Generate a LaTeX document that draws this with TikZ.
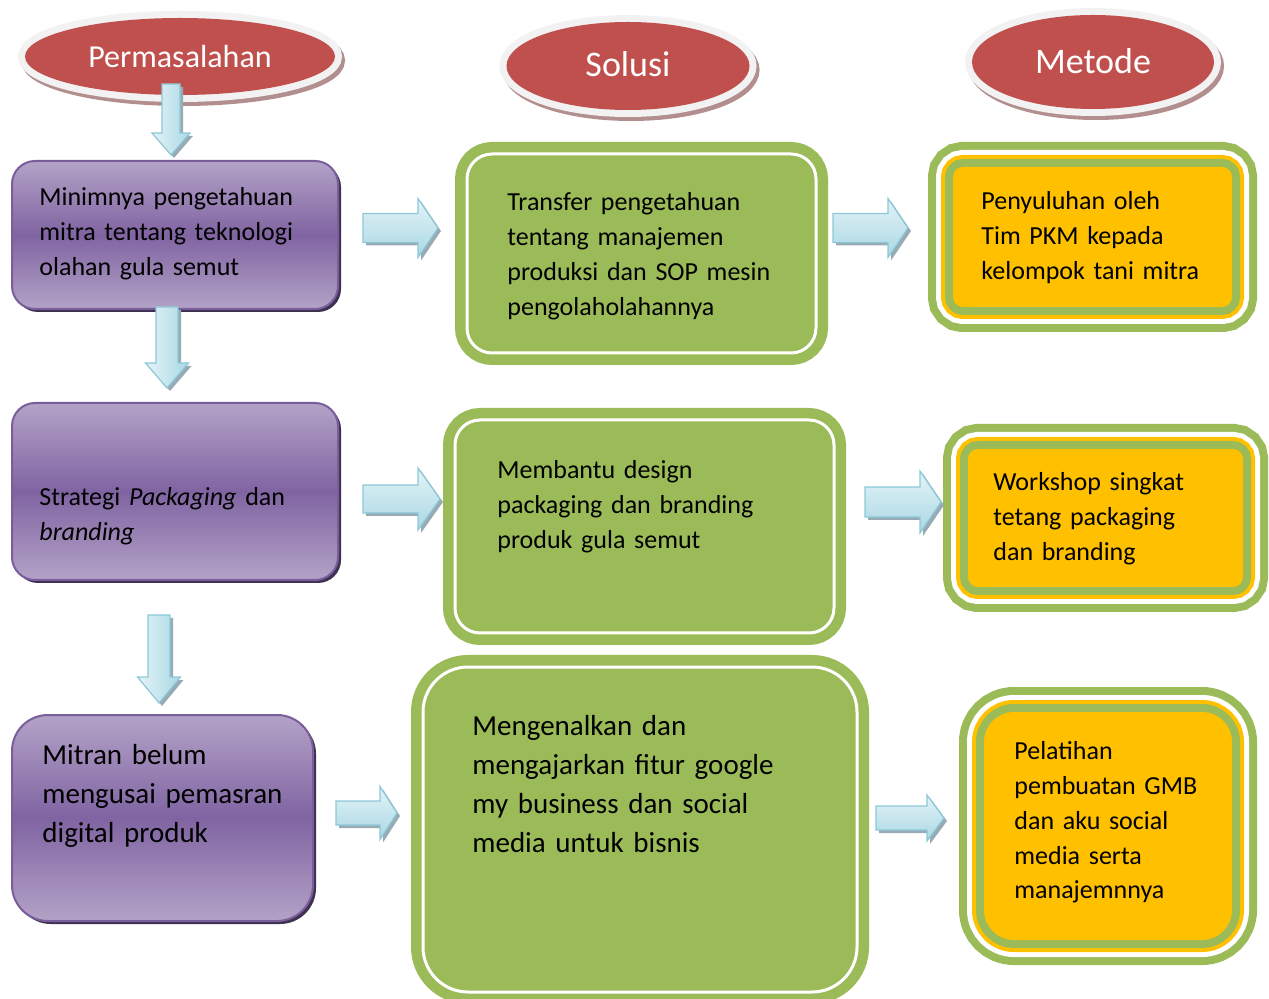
\documentclass[tikz,border=0pt]{standalone}
\usepackage{fontspec}
\setmainfont{Carlito}
\usetikzlibrary{shapes.geometric,shadows}
\definecolor{hdrred}{HTML}{C0504D}
\definecolor{hdrring}{HTML}{F2F2F2}
\definecolor{hdrshadow}{HTML}{B38E8E}
\definecolor{probtop}{HTML}{B3A2C7}
\definecolor{probmid}{HTML}{8064A2}
\definecolor{probline}{HTML}{7A5E9C}
\definecolor{probshadow}{HTML}{3F3151}
\definecolor{solgreen}{HTML}{9BBB59}
\definecolor{metorange}{HTML}{FFC000}
\definecolor{arrlight}{HTML}{E4F3F7}
\definecolor{arrdark}{HTML}{A9D8E4}
\definecolor{arrline}{HTML}{8CC8D8}
\definecolor{arrshadow}{HTML}{98ABB5}
% block arrows: tail x, tip x, mid y, half shaft, half head, head length
\newcommand{\arrowright}[6]{%
  \foreach \off/\look in {3/arrowshade, 0/arrowbody}
    \path[\look, shift={(\off,\off)}] (#1,#3-#4) -- (#2-#6,#3-#4) -- (#2-#6,#3-#5) -- (#2,#3)
      -- (#2-#6,#3+#5) -- (#2-#6,#3+#4) -- (#1,#3+#4) -- cycle;}
% mid x, tail y, tip y, half shaft, half head, head length
\newcommand{\arrowdown}[6]{%
  \foreach \off/\look in {3/arrowshade, 0/arrowbodyv}
    \path[\look, shift={(\off,\off)}] (#1-#4,#2) -- (#1-#4,#3-#6) -- (#1-#5,#3-#6) -- (#1,#3)
      -- (#1+#5,#3-#6) -- (#1+#4,#3-#6) -- (#1+#4,#2) -- cycle;}
\begin{document}
\begin{tikzpicture}[x=0.5pt, y=-0.5pt,
  header/.style={ellipse, inner sep=0pt, fill=hdrred, text=white,
    preaction={draw=hdrshadow, line width=7pt, transform canvas={shift={(1.5pt,-2pt)}}},
    preaction={draw=hdrring, line width=7pt}},
  problem/.style={rectangle, rounded corners=11.5pt, draw=probline, line width=1pt,
    top color=probtop, bottom color=probtop, middle color=probmid,
    drop shadow={shadow xshift=1.5pt, shadow yshift=-1.5pt, fill=probshadow, opacity=1}},
  solution/.style={rectangle, rounded corners=12.5pt, fill=solgreen, draw=white, line width=1.5pt,
    preaction={draw=solgreen, line width=12pt}},
  method/.style={rectangle, rounded corners=5pt, fill=metorange,
    preaction={draw=solgreen, line width=25pt},
    preaction={draw=white, line width=17pt},
    preaction={draw=metorange, line width=12pt},
    preaction={draw=solgreen, line width=8pt}},
  bodytxt/.style={anchor=base west, inner sep=0pt, text width=220pt, align=left,
    font=\fontsize{13}{17.5}\selectfont},
  bigtxt/.style={bodytxt, font=\fontsize{14.5}{19.5}\selectfont},
  arrowbody/.style={top color=arrlight, bottom color=arrdark, draw=arrline, line width=0.6pt},
  arrowbodyv/.style={left color=arrlight, right color=arrdark, draw=arrline, line width=0.6pt},
  arrowshade/.style={fill=arrshadow}]
\useasboundingbox (0,0) rectangle (1269,999);

% Column headers
\node[header, minimum width=155pt, minimum height=38.5pt, font=\fontsize{16}{19}\selectfont]
  (hdrprob) at (180,56.5) {Permasalahan};
\node[header, minimum width=121.5pt, minimum height=44pt, font=\fontsize{18}{21}\selectfont]
  (hdrsol) at (628,66) {\raisebox{1.5pt}{Solusi}};
\node[header, minimum width=121pt, minimum height=47pt, font=\fontsize{18}{21}\selectfont]
  (hdrmet) at (1093,62) {\raisebox{1pt}{Metode}};

% Permasalahan
\node[problem, minimum width=163pt, minimum height=74pt] (prob1) at (175,235) {};
\node[problem, minimum width=163pt, minimum height=88.5pt] (prob2) at (175,491.5) {};
\node[problem, rounded corners=18pt, minimum width=150.5pt, minimum height=103pt] (prob3) at (162.5,818) {};

% Solusi
\node[solution, minimum width=174.5pt, minimum height=99.5pt] (sol1) at (641.5,253.5) {};
\node[solution, minimum width=189.5pt, minimum height=106.5pt] (sol2) at (644.5,526.5) {};
\node[solution, rounded corners=22.5pt, minimum width=217pt, minimum height=162.5pt] (sol3) at (640,829.5) {};

% Metode
\node[method, minimum width=139.5pt, minimum height=70pt] (met1) at (1092.5,237) {};
\node[method, minimum width=137.5pt, minimum height=69pt] (met2) at (1105.5,518) {};
\node[method, rounded corners=15pt, minimum width=124pt, minimum height=114pt] (met3) at (1108,826) {};

% Texts
\node[bodytxt] (prob1txt) at (39,206) {Minimnya pengetahuan\\mitra tentang teknologi\\olahan gula semut};
\node[bodytxt] (prob2txt) at (39,506) {Strategi \textit{Packaging} dan\\\textit{branding}};
\node[bigtxt] (prob3txt) at (42,764) {Mitran belum\\mengusai pemasran\\digital produk};
\node[bodytxt] (sol1txt) at (507,211) {Transfer pengetahuan\\tentang manajemen\\produksi dan SOP mesin\\pengolaholahannya};
\node[bodytxt] (sol2txt) at (497,479) {Membantu design\\packaging dan branding\\produk gula semut};
\node[bigtxt] (sol3txt) at (472,735) {Mengenalkan dan\\mengajarkan fitur google\\my business dan social\\media untuk bisnis};
\node[bodytxt] (met1txt) at (981,210) {Penyuluhan oleh\\Tim PKM kepada\\kelompok tani mitra};
\node[bodytxt] (met2txt) at (993,491) {Workshop singkat\\tetang packaging\\dan branding};
\node[bodytxt] (met3txt) at (1014,759) {Pelatihan\\pembuatan GMB\\dan aku social\\media serta\\manajemnnya};

% Block arrows
\arrowdown{171}{84}{155}{9}{19}{22}
\arrowdown{167}{307}{388}{11}{21.5}{25}
\arrowdown{159}{615}{703}{11}{21.5}{26}
\arrowright{363}{438}{228}{14.5}{29.5}{20}
\arrowright{363}{440}{499}{14}{31}{22}
\arrowright{336}{397}{813}{12}{26.5}{17}
\arrowright{833}{908}{228}{14.5}{29.5}{20}
\arrowright{865}{941}{502}{15}{31}{21}
\arrowright{876}{944}{818}{12}{23}{17}
\end{tikzpicture}
\end{document}
